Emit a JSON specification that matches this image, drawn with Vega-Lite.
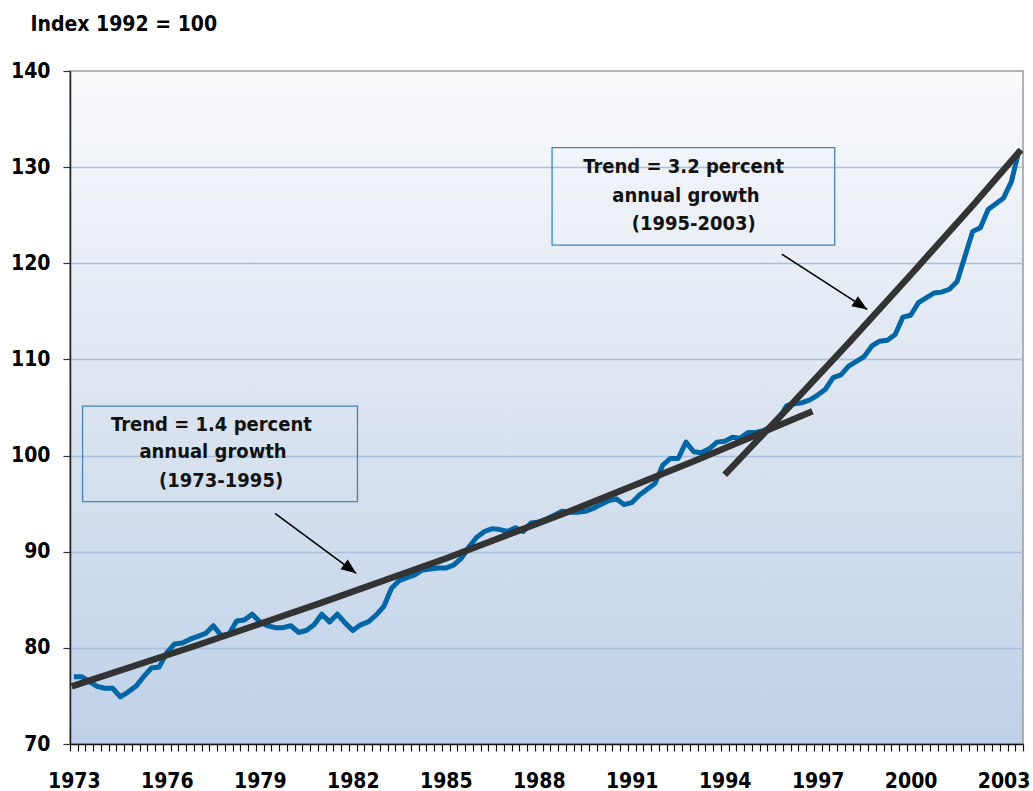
{
  "$schema": "https://vega.github.io/schema/vega-lite/v6.json",
  "width": 953,
  "height": 673,
  "autosize": {"type": "none"},
  "padding": {"left": 70, "top": 71, "right": 10, "bottom": 47},
  "background": "#ffffff",
  "config": {
    "font": "DejaVu Sans Condensed",
    "view": {
      "stroke": "#9a9a9a",
      "strokeWidth": 1.5,
      "fill": {"gradient": "linear", "x1": 0, "y1": 0, "x2": 0, "y2": 1,
        "stops": [{"offset": 0, "color": "#f9fafc"}, {"offset": 0.5, "color": "#dbe4f0"}, {"offset": 1, "color": "#bfd1e8"}]}
    }
  },
  "datasets": {
    "index": [
      {"t":1973.0,"v":77.0},{"t":1973.25,"v":77.0},{"t":1973.5,"v":76.5},{"t":1973.75,"v":76.0},
      {"t":1974.0,"v":75.8},{"t":1974.25,"v":75.8},{"t":1974.5,"v":74.9},{"t":1974.75,"v":75.4},
      {"t":1975.0,"v":76.0},{"t":1975.25,"v":77.0},{"t":1975.5,"v":77.9},{"t":1975.75,"v":78.0},
      {"t":1976.0,"v":79.5},{"t":1976.25,"v":80.4},{"t":1976.5,"v":80.5},{"t":1976.75,"v":80.9},
      {"t":1977.0,"v":81.2},{"t":1977.25,"v":81.5},{"t":1977.5,"v":82.3},{"t":1977.75,"v":81.3},
      {"t":1978.0,"v":81.4},{"t":1978.25,"v":82.8},{"t":1978.5,"v":82.9},{"t":1978.75,"v":83.5},
      {"t":1979.0,"v":82.7},{"t":1979.25,"v":82.3},{"t":1979.5,"v":82.1},{"t":1979.75,"v":82.1},
      {"t":1980.0,"v":82.3},{"t":1980.25,"v":81.6},{"t":1980.5,"v":81.8},{"t":1980.75,"v":82.4},
      {"t":1981.0,"v":83.5},{"t":1981.25,"v":82.7},{"t":1981.5,"v":83.5},{"t":1981.75,"v":82.6},
      {"t":1982.0,"v":81.8},{"t":1982.25,"v":82.4},{"t":1982.5,"v":82.7},{"t":1982.75,"v":83.4},
      {"t":1983.0,"v":84.3},{"t":1983.25,"v":86.2},{"t":1983.5,"v":87.0},{"t":1983.75,"v":87.3},
      {"t":1984.0,"v":87.6},{"t":1984.25,"v":88.1},{"t":1984.5,"v":88.2},{"t":1984.75,"v":88.3},
      {"t":1985.0,"v":88.3},{"t":1985.25,"v":88.6},{"t":1985.5,"v":89.3},{"t":1985.75,"v":90.5},
      {"t":1986.0,"v":91.5},{"t":1986.25,"v":92.1},{"t":1986.5,"v":92.4},{"t":1986.75,"v":92.3},
      {"t":1987.0,"v":92.1},{"t":1987.25,"v":92.5},{"t":1987.5,"v":92.1},{"t":1987.75,"v":93.0},
      {"t":1988.0,"v":93.1},{"t":1988.25,"v":93.4},{"t":1988.5,"v":93.8},{"t":1988.75,"v":94.2},
      {"t":1989.0,"v":94.1},{"t":1989.25,"v":94.1},{"t":1989.5,"v":94.2},{"t":1989.75,"v":94.5},
      {"t":1990.0,"v":94.9},{"t":1990.25,"v":95.3},{"t":1990.5,"v":95.5},{"t":1990.75,"v":94.9},
      {"t":1991.0,"v":95.1},{"t":1991.25,"v":95.9},{"t":1991.5,"v":96.5},{"t":1991.75,"v":97.1},
      {"t":1992.0,"v":99.0},{"t":1992.25,"v":99.7},{"t":1992.5,"v":99.7},{"t":1992.75,"v":101.4},
      {"t":1993.0,"v":100.4},{"t":1993.25,"v":100.3},{"t":1993.5,"v":100.7},{"t":1993.75,"v":101.4},
      {"t":1994.0,"v":101.5},{"t":1994.25,"v":101.9},{"t":1994.5,"v":101.8},{"t":1994.75,"v":102.4},
      {"t":1995.0,"v":102.4},{"t":1995.25,"v":102.6},{"t":1995.5,"v":103.0},{"t":1995.75,"v":103.8},
      {"t":1996.0,"v":105.2},{"t":1996.25,"v":105.4},{"t":1996.5,"v":105.5},{"t":1996.75,"v":105.8},
      {"t":1997.0,"v":106.3},{"t":1997.25,"v":106.9},{"t":1997.5,"v":108.1},{"t":1997.75,"v":108.4},
      {"t":1998.0,"v":109.3},{"t":1998.25,"v":109.8},{"t":1998.5,"v":110.3},{"t":1998.75,"v":111.4},
      {"t":1999.0,"v":111.9},{"t":1999.25,"v":112.0},{"t":1999.5,"v":112.6},{"t":1999.75,"v":114.4},
      {"t":2000.0,"v":114.6},{"t":2000.25,"v":115.9},{"t":2000.5,"v":116.4},{"t":2000.75,"v":116.9},
      {"t":2001.0,"v":117.0},{"t":2001.25,"v":117.3},{"t":2001.5,"v":118.1},{"t":2001.75,"v":120.7},
      {"t":2002.0,"v":123.3},{"t":2002.25,"v":123.7},{"t":2002.5,"v":125.6},{"t":2002.75,"v":126.2},
      {"t":2003.0,"v":126.8},{"t":2003.25,"v":128.5},{"t":2003.5,"v":131.8}
    ],
    "trend": [
      {"s":"t1","t":1972.93,"v":76.0},{"s":"t1","t":1977.0,"v":80.3},{"s":"t1","t":1981.0,"v":84.7},
      {"s":"t1","t":1985.0,"v":89.3},{"s":"t1","t":1989.0,"v":94.2},{"s":"t1","t":1993.0,"v":99.4},
      {"s":"t1","t":1996.83,"v":104.6},
      {"s":"t2","t":1994.0,"v":98.0},{"s":"t2","t":1996.0,"v":104.8},{"s":"t2","t":1998.0,"v":111.7},
      {"s":"t2","t":2000.0,"v":118.8},{"s":"t2","t":2002.0,"v":126.0},{"s":"t2","t":2003.56,"v":131.8}
    ],
    "boxes": [
      {"t1":1973.28,"t2":1982.15,"v1":105.15,"v2":95.2},
      {"t1":1988.43,"t2":1997.55,"v1":132.04,"v2":121.88}
    ],
    "notes": [
      {"t":1977.44,"v":102.55,"label":"Trend = 1.4 percent"},
      {"t":1977.49,"v":99.74,"label":"annual growth"},
      {"t":1977.75,"v":96.76,"label":"(1973-1995)"},
      {"t":1992.68,"v":129.4,"label":"Trend = 3.2 percent"},
      {"t":1992.75,"v":126.38,"label":"annual growth"},
      {"t":1993.0,"v":123.44,"label":"(1995-2003)"}
    ],
    "arrows": [
      {"a":"a1","t1":1979.49,"v1":93.99,"t2":1982.11,"v2":87.75},
      {"a":"a2","t1":1995.84,"v1":120.95,"t2":1998.6,"v2":115.2}
    ]
  },
  "layer": [
    {
      "data": {"name": "boxes"},
      "mark": {"type": "rect", "fill": null, "fillOpacity": 0, "stroke": "#3d86c0", "strokeWidth": 1.3},
      "encoding": {
        "x": {"field": "t1", "type": "quantitative",
          "scale": {"domain": [1972.875, 2003.625], "nice": false, "zero": false},
          "axis": {
            "title": null,
            "tickCount": 500,
            "values": [1972.875,1973.125,1973.375,1973.625,1973.875,1974.125,1974.375,1974.625,1974.875,1975.125,1975.375,1975.625,1975.875,1976.125,1976.375,1976.625,1976.875,1977.125,1977.375,1977.625,1977.875,1978.125,1978.375,1978.625,1978.875,1979.125,1979.375,1979.625,1979.875,1980.125,1980.375,1980.625,1980.875,1981.125,1981.375,1981.625,1981.875,1982.125,1982.375,1982.625,1982.875,1983.125,1983.375,1983.625,1983.875,1984.125,1984.375,1984.625,1984.875,1985.125,1985.375,1985.625,1985.875,1986.125,1986.375,1986.625,1986.875,1987.125,1987.375,1987.625,1987.875,1988.125,1988.375,1988.625,1988.875,1989.125,1989.375,1989.625,1989.875,1990.125,1990.375,1990.625,1990.875,1991.125,1991.375,1991.625,1991.875,1992.125,1992.375,1992.625,1992.875,1993.125,1993.375,1993.625,1993.875,1994.125,1994.375,1994.625,1994.875,1995.125,1995.375,1995.625,1995.875,1996.125,1996.375,1996.625,1996.875,1997.125,1997.375,1997.625,1997.875,1998.125,1998.375,1998.625,1998.875,1999.125,1999.375,1999.625,1999.875,2000.125,2000.375,2000.625,2000.875,2001.125,2001.375,2001.625,2001.875,2002.125,2002.375,2002.625,2002.875,2003.125,2003.375,2003.625,1973,1976,1979,1982,1985,1988,1991,1994,1997,2000,2003],
            "labelExpr": "datum.value % 1 == 0 ? format(datum.value, 'd') : ''",
            "labelOverlap": false,
            "labelBound": false,
            "labelFlush": false,
            "labelFontSize": 21,
            "labelFontWeight": "bold",
            "labelColor": "#000000",
            "labelPadding": 19,
            "tickSize": 7,
            "tickWidth": 1.2,
            "tickColor": "#111111",
            "tickOpacity": {"condition": {"test": "datum.value % 1 == 0", "value": 0}, "value": 1},
            "domainColor": "#111111",
            "domainWidth": 1.5,
            "grid": false
          }
        },
        "x2": {"field": "t2"},
        "y": {"field": "v1", "type": "quantitative",
          "scale": {"domain": [70, 140], "nice": false, "zero": false},
          "axis": {
            "values": [70, 80, 90, 100, 110, 120, 130, 140],
            "tickCount": 20,
            "title": "Index 1992 = 100",
            "titleAngle": 0,
            "titleX": -40,
            "titleY": -41,
            "titleAlign": "left",
            "titleBaseline": "alphabetic",
            "titleFontSize": 21,
            "titleFontWeight": "bold",
            "titleColor": "#000000",
            "labelFontSize": 21,
            "labelFontWeight": "bold",
            "labelColor": "#000000",
            "labelPadding": 13,
            "tickSize": 7,
            "tickWidth": 1.2,
            "tickColor": "#333333",
            "domainColor": "#222222",
            "domainWidth": 1.5,
            "grid": true,
            "gridColor": "#a8bedc",
            "gridWidth": 1.6,
            "gridOpacity": {"condition": {"test": "datum.value == 70 || datum.value == 140", "value": 0}, "value": 1}
          }
        },
        "y2": {"field": "v2"}
      }
    },
    {
      "data": {"name": "notes"},
      "mark": {"type": "text", "fontSize": 20, "fontWeight": "bold", "color": "#111111", "align": "center", "baseline": "alphabetic"},
      "encoding": {
        "x": {"field": "t", "type": "quantitative"},
        "y": {"field": "v", "type": "quantitative"},
        "text": {"field": "label"}
      }
    },
    {
      "data": {"name": "index"},
      "mark": {"type": "line", "color": "#0066a6", "strokeWidth": 5, "strokeJoin": "round"},
      "encoding": {
        "x": {"field": "t", "type": "quantitative"},
        "y": {"field": "v", "type": "quantitative"}
      }
    },
    {
      "data": {"name": "trend"},
      "mark": {"type": "line", "color": "#333333", "strokeWidth": 6.5, "strokeCap": "butt"},
      "encoding": {
        "x": {"field": "t", "type": "quantitative"},
        "y": {"field": "v", "type": "quantitative"},
        "detail": {"field": "s"}
      }
    },
    {
      "data": {"name": "arrows"},
      "mark": {"type": "rule", "color": "#000000", "strokeWidth": 1.6},
      "encoding": {
        "x": {"field": "t1", "type": "quantitative"},
        "y": {"field": "v1", "type": "quantitative"},
        "x2": {"field": "t2"},
        "y2": {"field": "v2"}
      }
    },
    {
      "data": {"name": "arrows"},
      "transform": [{"filter": "datum.a == 'a1'"}],
      "mark": {"type": "point", "shape": "M0,0L-0.8,2L0.8,2Z", "filled": true, "color": "#000000", "opacity": 1, "size": 225, "angle": 126.5},
      "encoding": {
        "x": {"field": "t2", "type": "quantitative"},
        "y": {"field": "v2", "type": "quantitative"}
      }
    },
    {
      "data": {"name": "arrows"},
      "transform": [{"filter": "datum.a == 'a2'"}],
      "mark": {"type": "point", "shape": "M0,0L-0.8,2L0.8,2Z", "filled": true, "color": "#000000", "opacity": 1, "size": 225, "angle": 122.9},
      "encoding": {
        "x": {"field": "t2", "type": "quantitative"},
        "y": {"field": "v2", "type": "quantitative"}
      }
    }
  ]
}
